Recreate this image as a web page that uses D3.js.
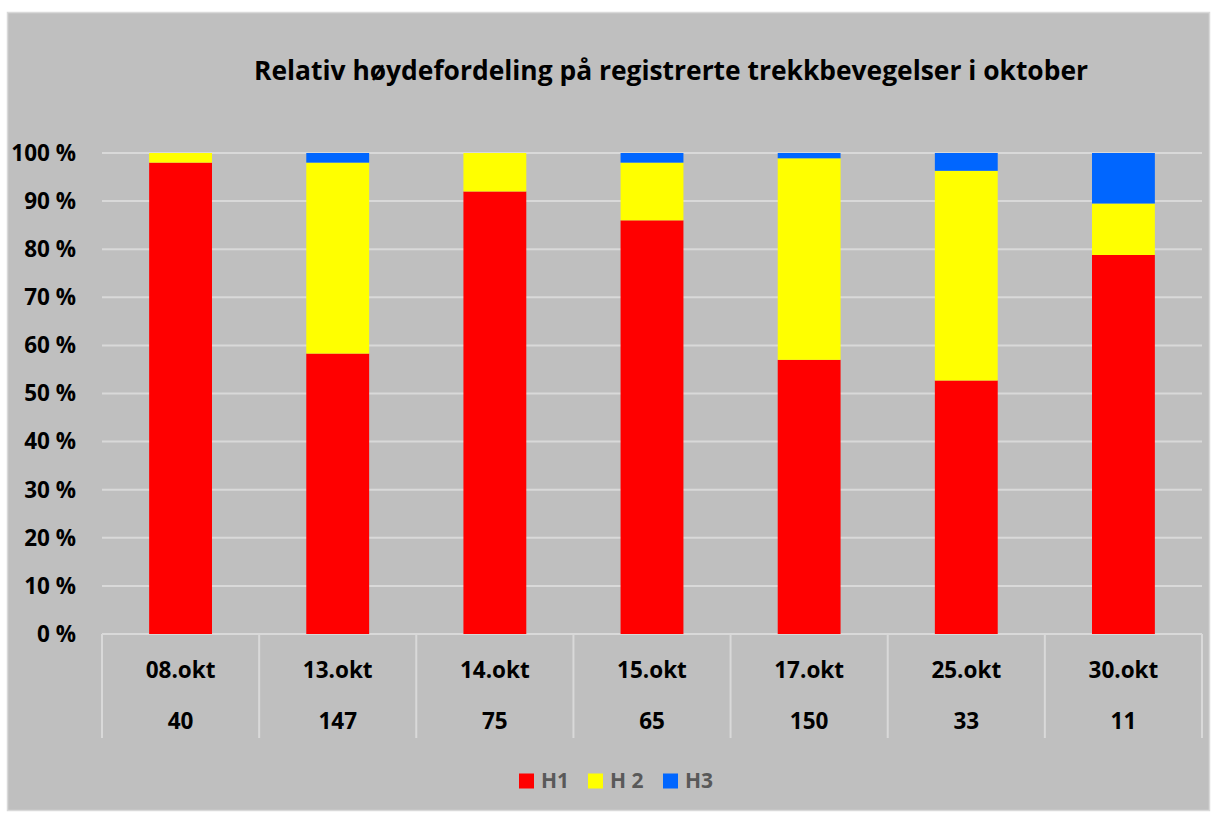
<!DOCTYPE html>
<html>
<head>
<meta charset="utf-8">
<script src="https://cdn.jsdelivr.net/npm/d3@7"></script>
<style>
  body { margin: 0; background: #fff; }
  text { font-family: "Open Sans", Lato, sans-serif; font-weight: bold; }
</style>
</head>
<body>
<div id="chart"></div>
<script>
// data
var dates = ["08.okt", "13.okt", "14.okt", "15.okt", "17.okt", "25.okt", "30.okt"];
var counts = ["40", "147", "75", "65", "150", "33", "11"];
var h1 = [98.0, 58.3, 92.0, 86.0, 57.0, 52.7, 78.8];
var h2 = [2.0, 39.7, 8.0, 12.0, 41.9, 43.6, 10.7];
var h3 = [0.0, 2.0, 0.0, 2.0, 1.1, 3.7, 10.5];
var seriesNames = ["H1", "H 2", "H3"];
var seriesColors = ["#ff0000", "#ffff00", "#0066ff"];
var yTicks = [0, 10, 20, 30, 40, 50, 60, 70, 80, 90, 100];

var W = 1212, H = 813;
var margin = { top: 153, left: 102, right: 10, bottom: 179 };
var plotW = W - margin.left - margin.right, plotH = H - margin.top - margin.bottom;

var svg = d3.select("#chart").append("svg")
    .attr("width", W)
    .attr("height", H);

// chart area background
svg.append("rect")
    .attr("x", 7.5).attr("y", 12.5)
    .attr("width", 1202).attr("height", 798)
    .attr("fill", "#bfbfbf")
    .attr("stroke", "#d9d9d9")
    .attr("stroke-width", 1.5);

svg.append("text")
    .attr("x", 671).attr("y", 80)
    .attr("text-anchor", "middle")
    .attr("font-size", 26.4)
    .attr("fill", "#000")
    .text("Relativ høydefordeling på registrerte trekkbevegelser i oktober");

var g = svg.append("g")
    .attr("transform", "translate(" + margin.left + "," + margin.top + ")");

var x = d3.scaleBand().domain(dates).range([0, plotW]).paddingInner(0).paddingOuter(0);
var y = d3.scaleLinear().domain([0, 100]).range([plotH, 0]);

// gridlines
g.selectAll(".grid").data(yTicks).enter().append("line")
    .attr("x1", 0).attr("x2", plotW)
    .attr("y1", function (d) { return y(d); })
    .attr("y2", function (d) { return y(d); })
    .attr("stroke", "#d9d9d9")
    .attr("stroke-width", 2);

// y tick labels
g.selectAll(".ylab").data(yTicks).enter().append("text")
    .attr("x", -26)
    .attr("y", function (d) { return y(d); })
    .attr("dy", "0.35em")
    .attr("text-anchor", "end")
    .attr("font-size", 22.5)
    .attr("fill", "#000")
    .text(function (d) { return d + " %"; });

// stacked bars
var rows = dates.map(function (d, i) { return { date: d, H1: h1[i], H2: h2[i], H3: h3[i] }; });
var stack = d3.stack().keys(["H1", "H2", "H3"])(rows);
var barW = x.bandwidth() * 0.4;

g.selectAll(".layer").data(stack).enter().append("g")
    .attr("fill", function (d, i) { return seriesColors[i]; })
    .selectAll("rect").data(function (d) { return d; }).enter().append("rect")
    .attr("x", function (d) { return x(d.data.date) + (x.bandwidth() - barW) / 2; })
    .attr("width", barW)
    .attr("y", function (d) { return y(d[1]); })
    .attr("height", function (d) { return y(d[0]) - y(d[1]); });

// table-like category axis
var bounds = dates.map(function (d) { return x(d); }).concat([plotW]);
g.selectAll(".vline").data(bounds).enter().append("line")
    .attr("x1", function (d) { return d; })
    .attr("x2", function (d) { return d; })
    .attr("y1", plotH).attr("y2", plotH + 104)
    .attr("stroke", "#d9d9d9")
    .attr("stroke-width", 2);

g.selectAll(".dlab").data(dates).enter().append("text")
    .attr("x", function (d) { return x(d) + x.bandwidth() / 2; })
    .attr("y", plotH + 36)
    .attr("dy", "0.35em")
    .attr("text-anchor", "middle")
    .attr("font-size", 22.5)
    .attr("fill", "#000")
    .text(function (d) { return d; });

g.selectAll(".clab").data(dates).enter().append("text")
    .attr("x", function (d) { return x(d) + x.bandwidth() / 2; })
    .attr("y", plotH + 87)
    .attr("dy", "0.35em")
    .attr("text-anchor", "middle")
    .attr("font-size", 22.5)
    .attr("fill", "#000")
    .text(function (d, i) { return counts[i]; });

// legend
var legX = [519, 588, 663];
var leg = svg.selectAll(".leg").data(seriesNames).enter().append("g")
    .attr("transform", function (d, i) { return "translate(" + legX[i] + ",781)"; });
leg.append("rect")
    .attr("x", 0).attr("y", -7.5)
    .attr("width", 15).attr("height", 15)
    .attr("fill", function (d, i) { return seriesColors[i]; });
leg.append("text")
    .attr("x", 22).attr("y", 0)
    .attr("dy", "0.35em")
    .attr("font-size", 21)
    .attr("fill", "#595959")
    .text(function (d) { return d; });
</script>
</body>
</html>
